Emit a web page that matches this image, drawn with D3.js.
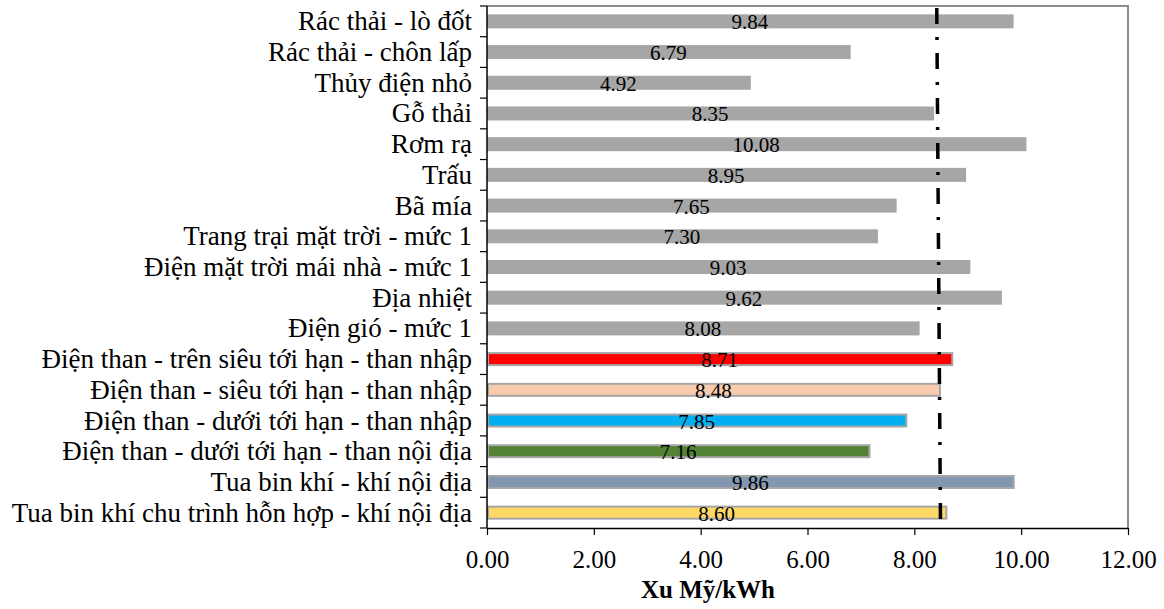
<!DOCTYPE html>
<html>
<head>
<meta charset="utf-8">
<script src="https://cdn.jsdelivr.net/npm/d3@7"></script>
<style>
  html, body { margin: 0; padding: 0; background: #fff; }
  svg { display: block; }
  text { font-family: "Liberation Serif", "Times New Roman", serif; fill: #000; }
</style>
</head>
<body>
<svg id="chart" width="1164" height="609"></svg>
<script>
// Levelized cost of electricity by technology (US cents/kWh)
const categories = [
  "Rác thải - lò đốt",
  "Rác thải - chôn lấp",
  "Thủy điện nhỏ",
  "Gỗ thải",
  "Rơm rạ",
  "Trấu",
  "Bã mía",
  "Trang trại mặt trời - mức 1",
  "Điện mặt trời mái nhà - mức 1",
  "Địa nhiệt",
  "Điện gió - mức 1",
  "Điện than - trên siêu tới hạn - than nhập",
  "Điện than - siêu tới hạn - than nhập",
  "Điện than - dưới tới hạn - than nhập",
  "Điện than - dưới tới hạn - than nội địa",
  "Tua bin khí - khí nội địa",
  "Tua bin khí chu trình hỗn hợp - khí nội địa"
];
const values = [9.84, 6.79, 4.92, 8.35, 10.08, 8.95, 7.65, 7.30, 9.03, 9.62, 8.08, 8.71, 8.48, 7.85, 7.16, 9.86, 8.60];
const barColors = [
  "#a6a6a6", "#a6a6a6", "#a6a6a6", "#a6a6a6", "#a6a6a6", "#a6a6a6",
  "#a6a6a6", "#a6a6a6", "#a6a6a6", "#a6a6a6", "#a6a6a6",
  "#ff0000", "#f8cbad", "#00b0f0", "#548235", "#8497b0", "#ffd966"
];
const xTicks = [0, 2, 4, 6, 8, 10, 12];
// Reference line (dash-dot), value at top and bottom of the plot
const refLine = [8.42, 8.49];
const axisTitle = "Xu Mỹ/kWh";

const svg = d3.select("#chart");
const plot = { left: 487, right: 1128, top: 6, bottom: 528 };

const x = d3.scaleLinear().domain([0, 12]).range([plot.left, plot.right]);
const y = d3.scaleBand().domain(categories).range([plot.top, plot.bottom])
  .paddingInner(0.544).paddingOuter(0.272);

// Plot frame: grey top and right edges
svg.append("path")
  .attr("d", `M${plot.left},${plot.top}H${plot.right}V${plot.bottom}`)
  .attr("fill", "none").attr("stroke", "#8c8c8c").attr("stroke-width", 2);

// Bars
const bw = y.bandwidth();
svg.append("g").selectAll("rect").data(values).join("rect")
  .attr("x", x(0) + 1)
  .attr("y", (d, i) => y(categories[i]) + 1)
  .attr("width", d => x(d) - x(0) - 1)
  .attr("height", bw - 2)
  .attr("fill", (d, i) => barColors[i])
  .attr("stroke", "#a6a6a6")
  .attr("stroke-width", 2);

// Value labels, centred in each bar
svg.append("g").selectAll("text").data(values).join("text")
  .attr("x", d => (x(0) + x(d)) / 2)
  .attr("y", (d, i) => y(categories[i]) + bw / 2 + 8)
  .attr("text-anchor", "middle")
  .style("font-size", "21px")
  .text(d => d.toFixed(2));

// Reference line
svg.append("line")
  .attr("x1", x(refLine[0])).attr("y1", plot.top + 2)
  .attr("x2", x(refLine[1])).attr("y2", plot.bottom)
  .attr("stroke", "#000").attr("stroke-width", 3.5)
  .attr("stroke-dasharray", "16,13,3,13");

// Category axis
const yAxis = svg.append("g").attr("transform", `translate(${plot.left},0)`);
yAxis.append("line").attr("y1", plot.top).attr("y2", plot.bottom)
  .attr("stroke", "#000").attr("stroke-width", 1.5);
const boundaries = d3.range(categories.length + 1).map(i => plot.top + i * y.step());
yAxis.selectAll("line.tick").data(boundaries).join("line").attr("class", "tick")
  .attr("x1", -7).attr("x2", 0).attr("y1", d => d).attr("y2", d => d)
  .attr("stroke", "#000").attr("stroke-width", 1.2);
yAxis.selectAll("text").data(categories).join("text")
  .attr("x", -15)
  .attr("y", d => y(d) + bw / 2 + 9)
  .attr("text-anchor", "end")
  .style("font-size", "27px")
  .text(d => d);

// Value axis
const xAxis = svg.append("g").attr("transform", `translate(0,${plot.bottom})`)
  .call(d3.axisBottom(x).tickValues(xTicks).tickFormat(d3.format(".2f"))
    .tickSizeInner(7).tickSizeOuter(0).tickPadding(15));
xAxis.select(".domain").attr("stroke", "#000").attr("stroke-width", 1.5);
xAxis.selectAll(".tick line").attr("stroke", "#000").attr("stroke-width", 1.2);
xAxis.selectAll(".tick text")
  .style("font-family", "'Liberation Serif', 'Times New Roman', serif")
  .style("font-size", "25px").attr("fill", "#000");

// Axis title
svg.append("text")
  .attr("x", 708).attr("y", 598)
  .attr("text-anchor", "middle")
  .style("font-size", "25px").style("font-weight", "bold")
  .text(axisTitle);
</script>
</body>
</html>
